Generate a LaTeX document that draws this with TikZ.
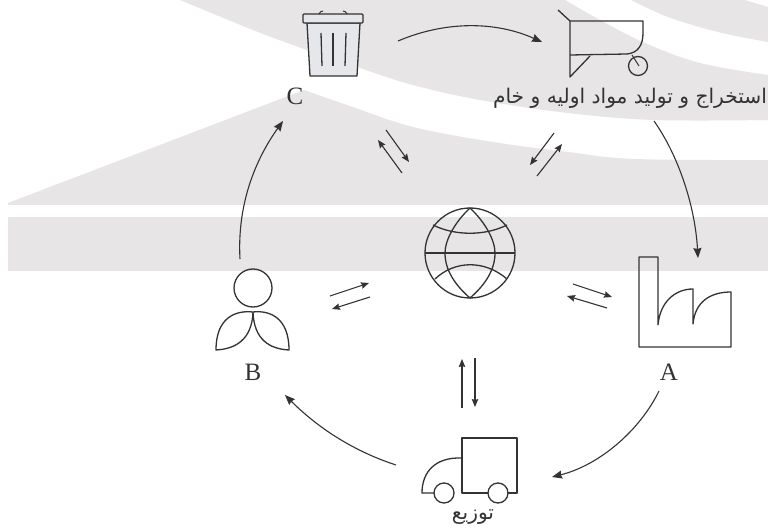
\documentclass[tikz,border=0pt]{standalone}
\usepackage{fontspec}
\usetikzlibrary{arrows.meta}
\newfontfamily\arabicfont[Script=Arabic]{DejaVu Sans}
\newfontfamily\labfont{Liberation Serif}
\TeXXeTstate=1
\definecolor{bandgray}{HTML}{E7E5E6}
\definecolor{binfill}{HTML}{E6E7EA}
\definecolor{inkc}{HTML}{333333}
\tikzset{
  x=1pt,y=-1pt,
  icon/.style={draw=inkc,line width=1.3pt,line join=round},
  roundicon/.style={circle,draw=inkc,line width=1.3pt,inner sep=0pt},
  flow/.style={draw=inkc,line width=1.1pt,-{Stealth[length=10pt,width=8pt,inset=1pt]}},
  pair/.style={draw=inkc,line width=1.1pt,-{Stealth[length=8pt,width=6.5pt,inset=1pt]}},
  lab/.style={text=inkc,inner sep=0pt,font=\labfont\fontsize{25}{25}\selectfont},
  fa/.style={text=inkc,inner sep=0pt,font=\arabicfont\fontsize{20.2}{24}\selectfont},
}
\begin{document}
\begin{tikzpicture}
\useasboundingbox (0,0) rectangle (768,529);
\fill[white] (0,0) rectangle (768,529);
% background bands
\fill[bandgray] (8,217) rectangle (768,271);
\fill[bandgray] (8,203) -- (304,90) -- plot[smooth,tension=.6] coordinates {(304,90) (347,105) (413,127) (493,142) (568,152) (635,159) (768,160)} -- (768,205) -- (8,205) -- cycle;
\fill[bandgray] plot[smooth,tension=.6] coordinates {(180,0) (253,30) (307,50) (360,68) (413,85) (480,100) (568,113) (655,120) (768,120)} -- plot[smooth,tension=.6] coordinates {(768,75) (700,63) (645,43) (600,20) (565,0)} -- cycle;
\fill[bandgray] plot[smooth,tension=.6] coordinates {(631,0) (668,17) (718,32) (768,42)} -- (768,7) -- (745,0) -- cycle;
% bin C
\draw[icon,fill=binfill] (307,23) -- (310,76) -- (357,76) -- (360,23) -- cycle;
\draw[icon,fill=binfill,rounded corners=1pt] (303,14) rectangle (363,23);
\draw[icon,line width=1pt] (319,14) .. controls (320,12) and (321,11) .. (323,11);
\draw[icon,line width=1pt] (347,14) .. controls (346,12) and (345,11) .. (343,11);
\draw[icon] (321,33) -- (322,66);
\draw[icon] (333,33) -- (333,66);
\draw[icon] (346,33) -- (345,66);
\node[lab] (c) at (295,96) {C};
% barrow
\draw[icon] (558,10) -- (570,21) -- (643,21) -- (643,33) .. controls (643,45) and (638,53) .. (627,54) -- (570,55);
\draw[icon] (570,21) -- (570,77) -- (590,56);
\node[roundicon,minimum size=19pt] (wheel) at (638,66) {};
\draw[icon,line width=1pt] (632,55) -- (639,66);
\node[fa] (raw) at (630,98) {\beginR استخراج و تولید مواد اولیه و خام\endR};
% globe
\node[roundicon,minimum size=90pt] (globe) at (470,253) {};
\draw[icon] (470,208) .. controls (485,222) and (495,240) .. (495,253) .. controls (495,270) and (485,285) .. (470,298);
\draw[icon] (470,208) .. controls (455,222) and (445,240) .. (445,253) .. controls (445,270) and (455,285) .. (470,298);
\draw[icon] (425,253) -- (515,253);
\draw[icon] (433,225) .. controls (455,236) and (485,236) .. (507,225);
\draw[icon] (435,279) .. controls (455,260) and (485,260) .. (507,279);
% person B
\node[roundicon,minimum size=38pt] (head) at (253,288) {};
\draw[icon] (253,312) .. controls (235,310) and (216,318) .. (216,350) .. controls (235,349) and (252,340) .. (253,312) .. controls (254,340) and (270,349) .. (289,350) .. controls (289,318) and (270,310) .. (253,312);
\node[lab] (b) at (253,372) {B};
% factory
\draw[icon] (658,325) -- (658,257) -- (639,257) -- (639,347) -- (731,347) -- (731,292) .. controls (710,292) and (695,302) .. (693,324) -- (693,289) .. controls (675,289) and (660,302) .. (658,325);
\node[lab] (a) at (669,372) {A};
% truck
\draw[icon] (462,438) rectangle (517,493);
\draw[icon] (462,458) .. controls (435,457) and (422,472) .. (422,493) -- (435,493);
\node[roundicon,fill=white,minimum size=20pt] (w1) at (444,493) {};
\node[roundicon,fill=white,minimum size=20pt] (w2) at (498,493) {};
\node[fa] (dist) at (473,517) {\beginR توزیع\endR};
% cycle arrows
\coordinate (e1a) at (398,41); \coordinate (e1b) at (542,42);
\draw[flow] (e1a) .. controls (445,21) and (495,21) .. (e1b);
\coordinate (e2a) at (654,121); \coordinate (e2b) at (698,258);
\draw[flow] (e2a) .. controls (678,155) and (695,205) .. (e2b);
\coordinate (e3a) at (659,391); \coordinate (e3b) at (552,477);
\draw[flow] (e3a) .. controls (640,430) and (600,465) .. (e3b);
\coordinate (e4a) at (396,465); \coordinate (e4b) at (285,395);
\draw[flow] (e4a) .. controls (350,450) and (315,425) .. (e4b);
\coordinate (e5a) at (240,259); \coordinate (e5b) at (283,121);
\draw[flow] (e5a) .. controls (237,205) and (255,160) .. (e5b);
% exchange pairs
\draw[pair] (386,130) -- (409,162);
\draw[pair] (402,173) -- (378,140);
\draw[pair] (554,133) -- (530,165);
\draw[pair] (537,176) -- (562,144);
\draw[pair] (330,296) -- (369,283);
\draw[pair] (370,297) -- (332,309);
\draw[pair] (573,284) -- (612,297);
\draw[pair] (607,308) -- (567,296);
\draw[pair] (462,408) -- (462,359);
\draw[pair] (475,358) -- (475,407);
\end{tikzpicture}
\end{document}
